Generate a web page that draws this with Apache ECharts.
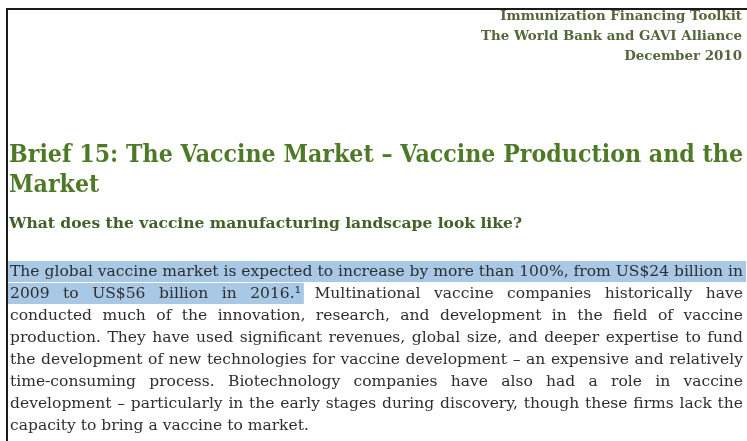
<!DOCTYPE html>
<html>
<head>
<meta charset="utf-8">
<script src="https://cdn.jsdelivr.net/npm/echarts@6/dist/echarts.min.js"></script>
<style>
  html, body { margin: 0; padding: 0; background: #fff; }
  #main { width: 747px; height: 441px; }
</style>
</head>
<body>
<div id="main"></div>
<script>
// figures quoted in the brief
var marketYears = [2009, 2016];
var marketValues = [24, 56];   // US$ billion
var growthPct = 100;

var headerLines = ['Immunization Financing Toolkit', 'The World Bank and GAVI Alliance', 'December 2010'];
var titleLines = ['Brief 15: The Vaccine Market \u2013 Vaccine Production and the', 'Market'];
var subheading = 'What does the vaccine manufacturing landscape look like?';
var bodyLines = [
  'The global vaccine market is expected to increase by more than ' + growthPct + '%, from US$' + marketValues[0] + ' billion in',
  marketYears[0] + ' to US$' + marketValues[1] + ' billion in ' + marketYears[1] + '.\u00b9 Multinational vaccine companies historically have',
  'conducted much of the innovation, research, and development in the field of vaccine',
  'production.  They have used significant revenues, global size, and deeper expertise to fund',
  'the development of new technologies for vaccine development \u2013 an expensive and relatively',
  'time-consuming process. Biotechnology companies have also had a role in vaccine',
  'development \u2013 particularly in the early stages during discovery, though these firms lack the',
  'capacity to bring a vaccine to market.'
];
// [line, number of words highlighted]
var highlight = [[0, 99], [1, 6]];

var ctx = document.createElement('canvas').getContext('2d');
function measure(text, font) {
  ctx.font = font;
  return ctx.measureText(text).width;
}

var serif = '"DejaVu Serif", "Liberation Serif", serif';
var headerFont = 'bold 13px ' + serif;
var titleFont = 'bold 25px ' + serif;
var subFont = 'bold 14.5px ' + serif;
var bodyFont = '15px ' + serif;

var left = 10, right = 743;
var elements = [];

function textEl(str, x, y, font, color, sx) {
  return {
    type: 'text', x: x, y: y, scaleX: sx || 1,
    style: {
      text: str, font: font, fill: color,
      align: 'left', verticalAlign: 'middle',
      textAlign: 'left', textVerticalAlign: 'middle'
    }
  };
}

// page frame
elements.push({ type: 'line', shape: { x1: 7, y1: 9, x2: 747, y2: 9 }, style: { stroke: '#1a1a1a', lineWidth: 2 } });
elements.push({ type: 'line', shape: { x1: 7, y1: 8, x2: 7, y2: 441 }, style: { stroke: '#1a1a1a', lineWidth: 2 } });

// header, right aligned
var hk = 261 / measure(headerLines[1], headerFont);
var headerY = [17, 37, 57];
headerLines.forEach(function (s, i) {
  var w = measure(s, headerFont) * hk;
  elements.push(textEl(s, 742 - w, headerY[i], headerFont, '#55663a', hk));
});

// title
var tk = (right - 9) / measure(titleLines[0], titleFont);
var titleY = [155, 185];
titleLines.forEach(function (s, i) {
  elements.push(textEl(s, 9, titleY[i], titleFont, '#4e7a28', tk));
});

// subheading, ends about x = 522
var sk = 513 / measure(subheading, subFont);
elements.push(textEl(subheading, 9, 224, subFont, '#44602a', sk));

// justified paragraph
var bodyY0 = 272, lineGap = 22;
var maxNat = 0;
bodyLines.slice(0, 7).forEach(function (s) {
  maxNat = Math.max(maxNat, measure(s.replace(/\s+/g, ' '), bodyFont));
});
var bk = (right - left) / maxNat;

var spaceW = measure(' ', bodyFont) * bk;
bodyLines.forEach(function (s, li) {
  var words = s.split(/\s+/);
  var widths = words.map(function (w) { return measure(w, bodyFont) * bk; });
  var total = widths.reduce(function (a, b) { return a + b; }, 0);
  var last = li === bodyLines.length - 1;
  var gap = last ? spaceW : (right - left - total) / (words.length - 1);
  var y = bodyY0 + li * lineGap;
  var x = left;
  var hl = highlight.filter(function (h) { return h[0] === li; })[0];
  var hlEnd = null;
  var items = [];
  words.forEach(function (w, wi) {
    items.push(textEl(w, x, y, bodyFont, '#2e2e2e', bk));
    if (hl && wi < hl[1]) hlEnd = x + widths[wi];
    x += widths[wi] + gap;
  });
  if (hl) {
    var x2 = hl[1] >= words.length ? 746 : hlEnd + 3;
    elements.push({ type: 'rect', shape: { x: 8, y: y - 11, width: x2 - 8, height: 21 }, style: { fill: '#a8c8e6' } });
  }
  elements = elements.concat(items);
});

var chart = echarts.init(document.getElementById('main'));
chart.setOption({
  backgroundColor: '#ffffff',
  graphic: { elements: elements }
});
</script>
</body>
</html>
